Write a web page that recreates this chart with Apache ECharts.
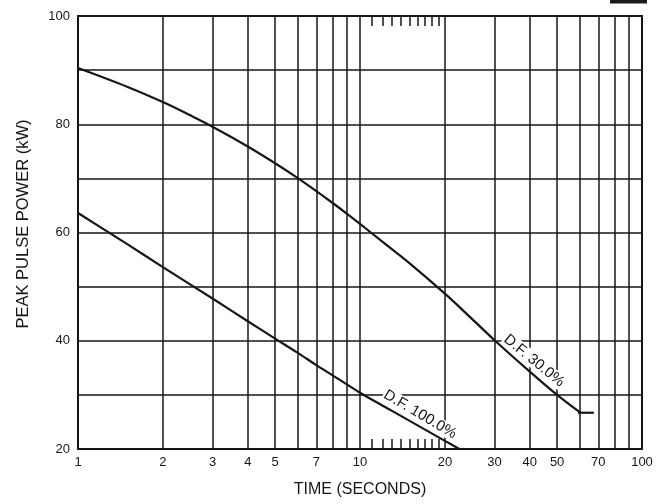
<!DOCTYPE html>
<html>
<head>
<meta charset="utf-8">
<script src="https://cdn.jsdelivr.net/npm/echarts@6/dist/echarts.min.js"></script>
<style>
  html, body { margin: 0; padding: 0; background: #fff; }
  #chart { width: 666px; height: 504px; }
</style>
</head>
<body>
<div id="chart"></div>
<script>
// Time axis (log): vertical grid lines, labelled ticks, and fine ticks between 10 and 20
const gridTimes = [1, 2, 3, 4, 5, 6, 7, 8, 9, 10, 20, 30, 40, 50, 60, 70, 80, 90, 100];
const timeLabels = [1, 2, 3, 4, 5, 7, 10, 20, 30, 40, 50, 70, 100];
const fineTimes = [11, 12, 13, 14, 15, 16, 17, 18, 19];
const powerLabels = [20, 40, 60, 80, 100];

// Peak pulse power (kW) versus time (s), duty factor 30 %
const df30Time  = [1, 1.5, 2, 2.5, 3, 4, 5, 6, 7, 8, 9, 10, 12, 15, 20, 25, 30, 40, 50, 60.5];
const df30Power = [90.4, 86.9, 84.1, 81.65, 79.55, 75.9, 72.8, 70.1, 67.65, 65.45, 63.45, 61.6, 58.3, 54.3, 48.7, 44.0, 40.1, 34.3, 30.0, 26.7];
// End stop of the 30 % curve
const df30StopTime  = [59.3, 67.5];
const df30StopPower = [26.7, 26.7];

// Duty factor 100 %
const df100Time  = [1, 1.5, 2, 3, 4, 5, 6, 7, 8, 10, 12, 15, 20, 22.5];
const df100Power = [63.6, 57.8, 53.6, 47.8, 43.6, 40.4, 37.8, 35.5, 33.6, 30.4, 28.05, 25.2, 21.5, 20.0];

// Curve captions: text, anchor (time, power), rotation in degrees
const captionText  = ['D.F. 30.0%', 'D.F. 100.0%'];
const captionTime  = [41.4, 16.33];
const captionPower = [36.3, 26.4];
const captionAngle = [39.4, 30.5];

const FONT = "'Liberation Sans', Arial, Helvetica, sans-serif";
const INK = '#161616';

const zip = (xs, ys) => xs.map((x, i) => [x, ys[i]]);

const chart = echarts.init(document.getElementById('chart'), null, { renderer: 'canvas' });

const fineAxis = (pos) => ({
  type: 'log', logBase: 10, min: 1, max: 100, position: pos,
  axisLine: { show: false },
  axisLabel: { show: false },
  splitLine: { show: false },
  axisTick: { show: true, inside: true, length: 10, customValues: fineTimes,
              lineStyle: { color: INK, width: 1.5 } }
});

const curve = (name, data) => ({
  type: 'line', name, data, smooth: 0.35,
  showSymbol: false, lineStyle: { color: INK, width: 2.2 }
});

chart.setOption({
  backgroundColor: '#fff',
  animation: false,
  grid: {
    left: 78, right: 24, top: 16, bottom: 55,
    show: true, borderColor: INK, borderWidth: 2, backgroundColor: 'transparent'
  },
  xAxis: [
    {
      type: 'log', logBase: 10, min: 1, max: 100, position: 'bottom',
      axisLine: { show: false },
      axisTick: { show: false, customValues: gridTimes },
      axisLabel: { customValues: timeLabels, color: INK, fontFamily: FONT, fontSize: 13, margin: 7 },
      splitLine: { show: true, lineStyle: { color: INK, width: 1.5 } }
    },
    fineAxis('bottom'),
    fineAxis('top')
  ],
  yAxis: {
    type: 'value', min: 20, max: 100, interval: 10,
    axisLine: { show: false },
    axisTick: { show: false },
    axisLabel: { customValues: powerLabels, color: INK, fontFamily: FONT, fontSize: 13, margin: 8 },
    splitLine: { show: true, lineStyle: { color: INK, width: 1.5 } }
  },
  series: [
    curve('D.F. 30.0%', zip(df30Time, df30Power)),
    { type: 'line', name: 'D.F. 30.0% stop', data: zip(df30StopTime, df30StopPower),
      showSymbol: false, lineStyle: { color: INK, width: 2.2 } },
    curve('D.F. 100.0%', zip(df100Time, df100Power))
  ]
});

// Axis titles, header block and curve captions
const graphics = [
  { type: 'text', x: 23, y: 224, rotation: Math.PI / 2,
    style: { text: 'PEAK PULSE POWER (kW)', font: '16.5px ' + FONT, fill: INK, align: 'center', verticalAlign: 'middle' } },
  { type: 'text', x: 360, y: 490,
    style: { text: 'TIME (SECONDS)', font: '16px ' + FONT, fill: INK, align: 'center', verticalAlign: 'middle' } },
  { type: 'rect', shape: { x: 610, y: 0, width: 37, height: 3.5 }, style: { fill: '#1a1a1a' } }
];
captionText.forEach((t, i) => {
  const p = chart.convertToPixel({ xAxisIndex: 0, yAxisIndex: 0 }, [captionTime[i], captionPower[i]]);
  graphics.push({
    type: 'text', x: p[0], y: p[1], rotation: -captionAngle[i] * Math.PI / 180,
    style: { text: t, font: '15px ' + FONT, fill: INK, align: 'center', verticalAlign: 'middle',
             backgroundColor: '#fff', padding: [0, 1] }
  });
});
chart.setOption({ graphic: graphics });
</script>
</body>
</html>
